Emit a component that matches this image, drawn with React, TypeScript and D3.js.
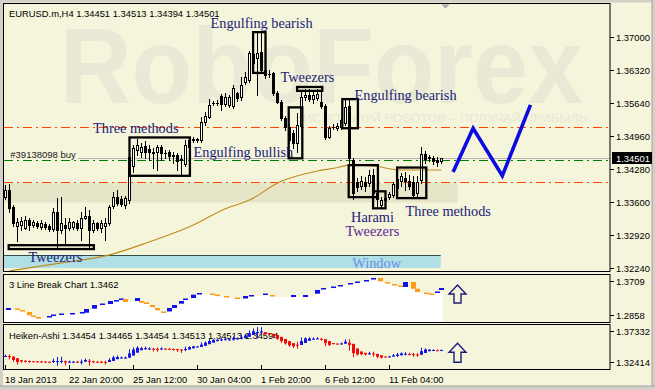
import React from 'react';
import * as d3 from 'd3';

const TITLE = 'EURUSD.m,H4  1.34451 1.34513 1.34394 1.34501';
const LB_TITLE = '3 Line Break Chart 1.3462';
const HA_TITLE = 'Heiken-Ashi 1.34454 1.34465 1.34454 1.34513 1.34513 1.34594';

// H4 bars: [open, high, low, close]
const candles: number[][] = [
  [1.3370, 1.3395, 1.3366, 1.3385], [1.3385, 1.3397, 1.3339, 1.3348], [1.3350, 1.3354, 1.3311, 1.3317],
  [1.3311, 1.3327, 1.3280, 1.3319], [1.3313, 1.3329, 1.3302, 1.3321], [1.3307, 1.3331, 1.3304, 1.3323],
  [1.3323, 1.3327, 1.3302, 1.3313], [1.3313, 1.3323, 1.3309, 1.3319], [1.3317, 1.3321, 1.3307, 1.3311],
  [1.3309, 1.3323, 1.3304, 1.3317], [1.3315, 1.3319, 1.3304, 1.3309], [1.3311, 1.3315, 1.3300, 1.3304],
  [1.3304, 1.3348, 1.3300, 1.3339], [1.3339, 1.3368, 1.3267, 1.3302], [1.3302, 1.3370, 1.3296, 1.3317],
  [1.3313, 1.3327, 1.3271, 1.3307], [1.3307, 1.3327, 1.3302, 1.3319], [1.3309, 1.3321, 1.3304, 1.3319],
  [1.3317, 1.3323, 1.3302, 1.3307], [1.3307, 1.3339, 1.3282, 1.3327], [1.3327, 1.3350, 1.3325, 1.3331],
  [1.3331, 1.3344, 1.3267, 1.3302], [1.3302, 1.3323, 1.3298, 1.3317], [1.3317, 1.3319, 1.3302, 1.3307],
  [1.3307, 1.3323, 1.3298, 1.3317], [1.3311, 1.3327, 1.3282, 1.3317], [1.3317, 1.3354, 1.3313, 1.3350],
  [1.3352, 1.3381, 1.3348, 1.3370], [1.3370, 1.3385, 1.3354, 1.3358], [1.3366, 1.3372, 1.3352, 1.3356],
  [1.3354, 1.3372, 1.3348, 1.3368], [1.3364, 1.3457, 1.3358, 1.3453], [1.3434, 1.3477, 1.3422, 1.3471],
  [1.3467, 1.3490, 1.3457, 1.3477], [1.3463, 1.3482, 1.3453, 1.3473], [1.3475, 1.3486, 1.3451, 1.3463],
  [1.3469, 1.3477, 1.3447, 1.3463], [1.3461, 1.3471, 1.3430, 1.3463], [1.3463, 1.3477, 1.3426, 1.3473],
  [1.3473, 1.3477, 1.3447, 1.3461], [1.3461, 1.3467, 1.3451, 1.3462], [1.3463, 1.3467, 1.3447, 1.3455],
  [1.3455, 1.3463, 1.3440, 1.3456], [1.3457, 1.3461, 1.3426, 1.3445], [1.3447, 1.3457, 1.3414, 1.3448],
  [1.3438, 1.3488, 1.3434, 1.3477], [1.3473, 1.3490, 1.3469, 1.3488], [1.3488, 1.3494, 1.3484, 1.3489],
  [1.3488, 1.3492, 1.3484, 1.3489], [1.3488, 1.3535, 1.3484, 1.3525], [1.3525, 1.3545, 1.3519, 1.3537],
  [1.3535, 1.3572, 1.3533, 1.3560], [1.3564, 1.3568, 1.3560, 1.3565], [1.3564, 1.3570, 1.3560, 1.3563],
  [1.3578, 1.3583, 1.3550, 1.3562], [1.3562, 1.3585, 1.3558, 1.3576], [1.3560, 1.3580, 1.3556, 1.3576],
  [1.3558, 1.3601, 1.3554, 1.3595], [1.3585, 1.3587, 1.3568, 1.3574], [1.3576, 1.3618, 1.3570, 1.3601],
  [1.3607, 1.3628, 1.3603, 1.3618], [1.3611, 1.3671, 1.3607, 1.3667], [1.3646, 1.3694, 1.3642, 1.3665],
  [1.3657, 1.3708, 1.3580, 1.3667], [1.3669, 1.3708, 1.3628, 1.3632], [1.3632, 1.3640, 1.3616, 1.3622],
  [1.3624, 1.3632, 1.3618, 1.3623], [1.3626, 1.3628, 1.3580, 1.3585], [1.3585, 1.3589, 1.3564, 1.3566],
  [1.3566, 1.3570, 1.3529, 1.3533], [1.3533, 1.3537, 1.3508, 1.3515], [1.3515, 1.3521, 1.3482, 1.3488],
  [1.3502, 1.3508, 1.3471, 1.3482], [1.3482, 1.3543, 1.3463, 1.3519], [1.3517, 1.3591, 1.3513, 1.3576],
  [1.3576, 1.3593, 1.3570, 1.3580], [1.3580, 1.3593, 1.3568, 1.3572], [1.3572, 1.3591, 1.3564, 1.3580],
  [1.3574, 1.3593, 1.3570, 1.3583], [1.3566, 1.3587, 1.3554, 1.3558], [1.3558, 1.3562, 1.3490, 1.3494],
  [1.3494, 1.3517, 1.3492, 1.3513], [1.3515, 1.3521, 1.3510, 1.3514], [1.3513, 1.3523, 1.3508, 1.3517],
  [1.3515, 1.3533, 1.3510, 1.3529], [1.3523, 1.3570, 1.3519, 1.3556], [1.3558, 1.3570, 1.3440, 1.3451],
  [1.3447, 1.3451, 1.3366, 1.3379], [1.3401, 1.3410, 1.3383, 1.3391], [1.3393, 1.3414, 1.3387, 1.3403],
  [1.3401, 1.3412, 1.3383, 1.3393], [1.3399, 1.3426, 1.3393, 1.3416], [1.3416, 1.3428, 1.3372, 1.3379],
  [1.3379, 1.3385, 1.3352, 1.3366], [1.3354, 1.3370, 1.3350, 1.3364], [1.3364, 1.3372, 1.3360, 1.3368],
  [1.3370, 1.3381, 1.3366, 1.3377], [1.3375, 1.3401, 1.3370, 1.3397], [1.3389, 1.3414, 1.3368, 1.3407],
  [1.3403, 1.3420, 1.3393, 1.3414], [1.3410, 1.3422, 1.3385, 1.3403], [1.3403, 1.3416, 1.3387, 1.3393],
  [1.3401, 1.3414, 1.3370, 1.3375], [1.3379, 1.3414, 1.3370, 1.3401], [1.3405, 1.3473, 1.3399, 1.3459],
  [1.3459, 1.3465, 1.3440, 1.3449], [1.3451, 1.3457, 1.3445, 1.3452], [1.3451, 1.3455, 1.3438, 1.3445],
  [1.3447, 1.3453, 1.3434, 1.3443], [1.34451, 1.34513, 1.34394, 1.34501],
];

// moving average readings: [bar, value]
const maSamples: number[][] = [
  [1, 1.3218], [13.6, 1.3234], [26, 1.3251], [36, 1.3278], [46, 1.3309], [55, 1.3346],
  [61, 1.3364], [68.5, 1.3401], [78, 1.3424], [82.5, 1.3430], [86, 1.3436], [93, 1.3433],
  [98.5, 1.3426], [109, 1.3426],
];

const priceTicks = [1.37, 1.3632, 1.3564, 1.3496, 1.3428, 1.336, 1.3292, 1.3224];
const bidPrice = 1.34501;
const orderPrice = 1.3446;
const orderLabel = '#39138098 buy';
const levelPrices = [1.3515, 1.3402];

const dateTickBars = [0, 16, 32, 48, 64, 80, 96];
const dateTickLabels = ['18 Jan 2013', '22 Jan 20:00', '25 Jan 12:00', '30 Jan 04:00', '1 Feb 20:00', '6 Feb 12:00', '11 Feb 04:00'];

// shaded zones: [fromBar, toBar, high, low]
const supportZone = [-0.4, 113, 1.3399, 1.3359];
const windowZone = [-0.4, 108.8, 1.3251, 1.3225];

// pattern frames: [fromBar, toBar, high, low]
const patternBoxes: number[][] = [
  [0.8, 22.1, 1.3271, 1.3263],
  [31, 46.1, 1.3493, 1.3414],
  [61.9, 65, 1.3710, 1.3626],
  [72.9, 79.2, 1.3597, 1.3589],
  [70.8, 74.2, 1.3555, 1.3450],
  [84.2, 88.1, 1.3572, 1.3512],
  [85.8, 93.1, 1.3436, 1.3370],
  [91.9, 95, 1.3382, 1.3347],
  [97.9, 105.2, 1.3431, 1.3368],
];

const NAVY = '#1c1c78';
const PURPLE = '#62258f';
// captions: [text, bar, price, colour]
const patternLabels: [string, number, number, string][] = [
  ['Engulfing bearish', 51.25, 1.3728, NAVY],
  ['Tweezers', 68.75, 1.3618, NAVY],
  ['Engulfing bearish', 87.25, 1.3580, NAVY],
  ['Three methods', 21.9, 1.3513, NAVY],
  ['Engulfing bullish', 47, 1.3463, NAVY],
  ['Harami', 86.4, 1.3329, NAVY],
  ['Tweezers', 85, 1.3300, PURPLE],
  ['Three methods', 100, 1.3342, NAVY],
  ['Window', 86.7, 1.3234, '#6a8fe6'],
  ['Tweezers', 5.75, 1.3247, NAVY],
];

// expected path: [bar, price]
const forecast: number[][] = [[111.9, 1.3422], [116.9, 1.3512], [124.2, 1.3414], [131.25, 1.3560]];

// three line break blocks: [position, high, low, rising]
const lineBreakBlocks: number[][] = [
  [0.75, 1.3132, 1.3094, 1], [3, 1.3123, 1.3094, 0], [4.25, 1.3094, 1.3066, 0], [6, 1.3057, 1.2994, 0],
  [7, 1.2990, 1.2962, 0], [8.25, 1.2962, 1.2930, 0], [11, 1.2981, 1.2953, 1], [12, 1.3009, 1.2981, 1],
  [14, 1.3028, 1.3000, 1], [16.75, 1.3038, 1.3009, 1], [19.25, 1.3057, 1.3028, 1], [20.25, 1.3113, 1.3043, 1],
  [22.25, 1.3189, 1.3119, 1], [24.25, 1.3217, 1.3189, 1], [26.25, 1.3265, 1.3208, 1], [27.75, 1.3283, 1.3255, 1],
  [29, 1.3312, 1.3283, 1], [30, 1.3302, 1.3246, 0], [33, 1.3321, 1.3265, 1], [34, 1.3265, 1.3232, 0],
  [35.25, 1.3240, 1.3208, 0], [36.75, 1.3189, 1.3151, 0], [38, 1.3132, 1.3089, 0], [39.5, 1.3066, 1.3038, 0],
  [41, 1.3132, 1.3066, 1], [42.25, 1.3189, 1.3132, 1], [44, 1.3265, 1.3214, 1], [45, 1.3312, 1.3283, 1],
  [47, 1.3384, 1.3321, 1], [48.5, 1.3416, 1.3387, 1], [51.75, 1.3406, 1.3378, 0], [53, 1.3387, 1.3359, 0],
  [55.25, 1.3359, 1.3331, 0], [58, 1.3331, 1.3302, 0], [60, 1.3359, 1.3312, 1], [61.5, 1.3378, 1.3350, 1],
  [65, 1.3406, 1.3378, 1], [66.75, 1.3378, 1.3350, 0], [72, 1.3378, 1.3340, 1], [75, 1.3378, 1.3340, 1],
  [78, 1.3473, 1.3403, 1], [79.5, 1.3510, 1.3482, 1], [82, 1.3539, 1.3510, 1], [83.75, 1.3567, 1.3539, 1],
  [86.25, 1.3605, 1.3577, 1], [88, 1.3633, 1.3605, 1], [90.25, 1.3662, 1.3633, 1], [92, 1.3700, 1.3671, 1],
  [93.75, 1.3700, 1.3637, 0], [95.5, 1.3624, 1.3596, 0], [97.25, 1.3586, 1.3558, 0], [98.75, 1.3558, 1.3529, 0],
  [100, 1.3624, 1.3529, 1], [102, 1.3624, 1.3497, 0], [103, 1.3497, 1.3435, 0], [105.25, 1.3425, 1.3397, 0],
  [106.5, 1.3406, 1.3378, 0], [108, 1.3444, 1.3416, 1], [109, 1.3510, 1.3473, 1],
];
const lbRange = [1.2858, 1.3709];
const haRange = [1.32414, 1.37332];
// up-signal markers: [bar, value]
const lbSignal = [113, 1.3567];
const haSignal = [113, 1.3524];

const BG = '#f5f5dc';
const FRAME = '#d4d0c8';
const SANS = "'Liberation Sans', Arial, sans-serif";
const SERIF = "'Liberation Serif', 'Times New Roman', serif";

const PANEL_L = 4;
const PANEL_R = 610;
const MAIN_T = 3.5;
const MAIN_B = 271.5;
const LB_T = 274.5;
const LB_B = 322.5;
const HA_T = 324.5;
const HA_B = 369.5;

function arrowPath(cx: number, top: number, h: number) {
  return `M${cx},${top} L${cx + 8.5},${top + 9} L${cx + 3.5},${top + 9} L${cx + 3.5},${top + h} L${cx - 3.5},${top + h} L${cx - 3.5},${top + 9} L${cx - 8.5},${top + 9} Z`;
}

export default function App() {
  const x = d3.scaleLinear().domain([0, 109]).range([5.5, 441.5]);
  const yMain = d3.scaleLinear().domain([1.3224, 1.37]).range([268, 37]);
  const yLB = d3.scaleLinear().domain(lbRange).range([LB_B, LB_T + 3]);
  const yHA = d3.scaleLinear().domain(haRange).range([HA_B - 1.5, HA_T + 0.5]);
  const snap = (v: number) => Math.round(v) + 0.5;
  const fmt5 = d3.format('.5f');

  // Heiken-Ashi values derived from the bars
  const ha: { o: number; h: number; l: number; c: number }[] = [];
  candles.forEach(([o, h, l, c], i) => {
    const hc = (o + h + l + c) / 4;
    const ho = i === 0 ? (o + c) / 2 : (ha[i - 1].o + ha[i - 1].c) / 2;
    ha.push({ o: ho, c: hc, h: Math.max(h, ho, hc), l: Math.min(l, ho, hc) });
  });

  const maLine = d3.line<number[]>().x((d) => x(d[0])).y((d) => yMain(d[1])).curve(d3.curveMonotoneX)(maSamples) || '';
  const forecastLine = d3.line<number[]>().x((d) => x(d[0])).y((d) => yMain(d[1]))(forecast) || '';

  const lbPts = [[-0.3, lineBreakBlocks[0][2]], ...lineBreakBlocks.map((b) => [b[0], b[2]]), [109.3, lineBreakBlocks[lineBreakBlocks.length - 1][2]]];
  const lbArea = d3.area<number[]>().x((d) => x(d[0])).y0(yLB(lbRange[0])).y1((d) => yLB(d[1])).curve(d3.curveMonotoneX)(lbPts) || '';

  const dashDot = '9,4,2,4';

  return (
    <div style={{ position: 'fixed', left: 0, top: 0 }}>
      <svg width={655} height={390} style={{ display: 'block' }}>
        <defs>
          <clipPath id="mainClip"><rect x={PANEL_L} y={MAIN_T} width={PANEL_R - PANEL_L} height={MAIN_B - MAIN_T} /></clipPath>
          <clipPath id="lbClip"><rect x={PANEL_L} y={LB_T} width={PANEL_R - PANEL_L} height={LB_B - LB_T} /></clipPath>
          <clipPath id="haClip"><rect x={PANEL_L} y={HA_T} width={PANEL_R - PANEL_L} height={HA_B - HA_T} /></clipPath>
        </defs>
        <rect x={0} y={0} width={655} height={390} fill={BG} />
        <rect x={0} y={0} width={655} height={2.5} fill={FRAME} />
        <rect x={0} y={0} width={3} height={390} fill={FRAME} />
        <rect x={652} y={0} width={3} height={390} fill={FRAME} />
        <line x1={652} x2={652} y1={0} y2={390} stroke="#a0a0a0" />
        <rect x={0} y={386} width={655} height={4} fill={FRAME} />
        <line x1={0} x2={655} y1={386} y2={386} stroke="#a0a0a0" />

        {/* main price panel */}
        <g clipPath="url(#mainClip)">
          <text x={60} y={103} fontFamily={SANS} fontWeight="bold" fontSize={107} fill="#e9e9d6" textLength={523} lengthAdjust="spacingAndGlyphs">RoboForex</text>
          <text x={303} y={122} fontFamily={SANS} fontSize={11} fill="#e8e8d4" textLength={284} lengthAdjust="spacingAndGlyphs">ИСПОЛЬЗУЙ РОБОТОВ – ПОЛУЧАЙ ПРИБЫЛЬ</text>

          <rect x={x(supportZone[0])} y={yMain(supportZone[2])} width={x(supportZone[1]) - x(supportZone[0])} height={yMain(supportZone[3]) - yMain(supportZone[2])} fill="#e7e5c8" />
          <rect x={x(windowZone[0])} y={snap(yMain(windowZone[2]))} width={x(windowZone[1]) - x(windowZone[0])} height={yMain(windowZone[3]) - yMain(windowZone[2])} fill="#b0e0e6" />
          <line x1={x(windowZone[0])} x2={x(windowZone[1])} y1={snap(yMain(windowZone[2]))} y2={snap(yMain(windowZone[2]))} stroke="#2f4f4f" />

          {levelPrices.map((p, i) => (
            <line key={i} x1={PANEL_L} x2={PANEL_R} y1={snap(yMain(p))} y2={snap(yMain(p))} stroke="#ff4500" strokeDasharray={dashDot} />
          ))}
          <line x1={78} x2={PANEL_R} y1={snap(yMain(bidPrice))} y2={snap(yMain(bidPrice))} stroke="#b4b4b4" />
          <line x1={PANEL_L} x2={PANEL_R} y1={snap(yMain(orderPrice))} y2={snap(yMain(orderPrice))} stroke="#008000" strokeDasharray={dashDot} />
          <text x={x(1.2)} y={yMain(1.3458)} dy="0.35em" fontFamily={SANS} fontSize={9.5} fill="#1a1a1a">{orderLabel}</text>

          <path d={maLine} fill="none" stroke="#c08a1e" strokeWidth={1.1} />

          {candles.map(([o, h, l, c], i) => {
            const cx = x(i);
            const top = Math.round(yMain(Math.max(o, c)));
            const bot = Math.round(yMain(Math.min(o, c)));
            const up = c >= o;
            return (
              <g key={i}>
                <line x1={cx} x2={cx} y1={Math.round(yMain(h))} y2={Math.round(yMain(l)) + 1} stroke="#000" />
                {bot - top < 1 ? (
                  <rect x={cx - 1.5} y={top} width={3} height={1} fill="#000" />
                ) : up ? (
                  <rect x={cx - 1} y={top + 0.5} width={2} height={bot - top} fill="#fff" stroke="#000" />
                ) : (
                  <rect x={cx - 1.5} y={top} width={3} height={bot - top + 1} fill="#000" />
                )}
              </g>
            );
          })}

          {patternBoxes.map(([b0, b1, hi, lo], i) => (
            <rect key={i} x={x(b0)} y={yMain(hi)} width={x(b1) - x(b0)} height={yMain(lo) - yMain(hi)} fill="none" stroke="#000" strokeWidth={2.3} />
          ))}

          <path d={forecastLine} fill="none" stroke="#0c0ce0" strokeWidth={3.6} strokeLinejoin="miter" />

          {patternLabels.map(([t, b, p, col], i) => (
            <text key={i} x={x(b)} y={yMain(p)} dy="0.35em" fontFamily={SERIF} fontSize={14.3} fill={col}>{t}</text>
          ))}

          <path d={`M${x(110) - 4},${MAIN_T + 1} L${x(110) + 4},${MAIN_T + 1} L${x(110)},${MAIN_T + 5} Z`} fill="#a8a8a8" />
          <text x={9} y={16.5} fontFamily={SANS} fontSize={9.4} fill="#000">{TITLE}</text>
        </g>
        <rect x={PANEL_L - 0.5} y={MAIN_T} width={PANEL_R - PANEL_L + 0.5} height={MAIN_B - MAIN_T} fill="none" stroke="#000" />

        {/* price axis */}
        {priceTicks.map((p, i) => (
          <g key={i}>
            <line x1={PANEL_R} x2={PANEL_R + 4} y1={snap(yMain(p))} y2={snap(yMain(p))} stroke="#000" />
            <text x={616} y={yMain(p) + 3.6} fontFamily={SANS} fontSize={9.4} fill="#000">{fmt5(p)}</text>
          </g>
        ))}
        <rect x={612} y={Math.round(yMain(bidPrice)) - 6} width={40} height={12} fill="#000" />
        <text x={616} y={yMain(bidPrice) + 3.6} fontFamily={SANS} fontSize={9.4} fill="#fff">{fmt5(bidPrice)}</text>

        {/* three line break panel */}
        <g clipPath="url(#lbClip)">
          <path d={lbArea} fill="#ffffff" />
          <text x={9} y={288} fontFamily={SANS} fontSize={9.4} fill="#000">{LB_TITLE}</text>
          {lineBreakBlocks.map(([pos, hi, lo, rising], i) => (
            <rect key={i} x={x(pos) - 2.5} y={yLB(hi)} width={5} height={Math.max(yLB(lo) - yLB(hi), 1.5)} fill={rising ? '#1010f0' : '#ff9a1a'} />
          ))}
        </g>
        <rect x={PANEL_L - 0.5} y={LB_T} width={PANEL_R - PANEL_L + 0.5} height={LB_B - LB_T} fill="none" stroke="#000" />
        <path d={arrowPath(x(lbSignal[0]), yLB(lbSignal[1]), 18)} fill={BG} stroke="#1c1c78" strokeWidth={1.4} />
        {[lbRange[1], lbRange[0]].map((p, i) => (
          <g key={i}>
            <line x1={PANEL_R} x2={PANEL_R + 4} y1={i === 0 ? 281.5 : 315.5} y2={i === 0 ? 281.5 : 315.5} stroke="#000" />
            <text x={616} y={(i === 0 ? 281.5 : 315.5) + 3.6} fontFamily={SANS} fontSize={9.4} fill="#000">{p.toFixed(4)}</text>
          </g>
        ))}

        {/* Heiken-Ashi panel */}
        <g clipPath="url(#haClip)">
          <text x={9} y={338.5} fontFamily={SANS} fontSize={9.4} fill="#000">{HA_TITLE}</text>
          {ha.map((d, i) => {
            const cx = x(i);
            const col = d.c >= d.o ? '#1414e6' : '#f50a0a';
            const top = yHA(Math.max(d.o, d.c));
            const bot = yHA(Math.min(d.o, d.c));
            return (
              <g key={i}>
                <line x1={cx} x2={cx} y1={yHA(d.h)} y2={yHA(d.l)} stroke={col} />
                <rect x={cx - 1.5} y={top} width={3} height={Math.max(bot - top, 1)} fill={col} />
              </g>
            );
          })}
        </g>
        <rect x={PANEL_L - 0.5} y={HA_T} width={PANEL_R - PANEL_L + 0.5} height={HA_B - HA_T} fill="none" stroke="#000" />
        <path d={arrowPath(x(haSignal[0]), yHA(haSignal[1]), 19)} fill={BG} stroke="#1c1c78" strokeWidth={1.4} />
        {[haRange[1], haRange[0]].map((p, i) => (
          <g key={i}>
            <line x1={PANEL_R} x2={PANEL_R + 4} y1={i === 0 ? 331.5 : 362.5} y2={i === 0 ? 331.5 : 362.5} stroke="#000" />
            <text x={616} y={(i === 0 ? 331.5 : 362.5) + 3.6} fontFamily={SANS} fontSize={9.4} fill="#000">{fmt5(p)}</text>
          </g>
        ))}

        {/* time axis */}
        {dateTickBars.map((b, i) => (
          <g key={i}>
            <line x1={x(b)} x2={x(b)} y1={365} y2={HA_B} stroke="#000" />
            <text x={x(b) - 0.5} y={383} fontFamily={SANS} fontSize={9.4} fill="#000">{dateTickLabels[i]}</text>
          </g>
        ))}
      </svg>
    </div>
  );
}
